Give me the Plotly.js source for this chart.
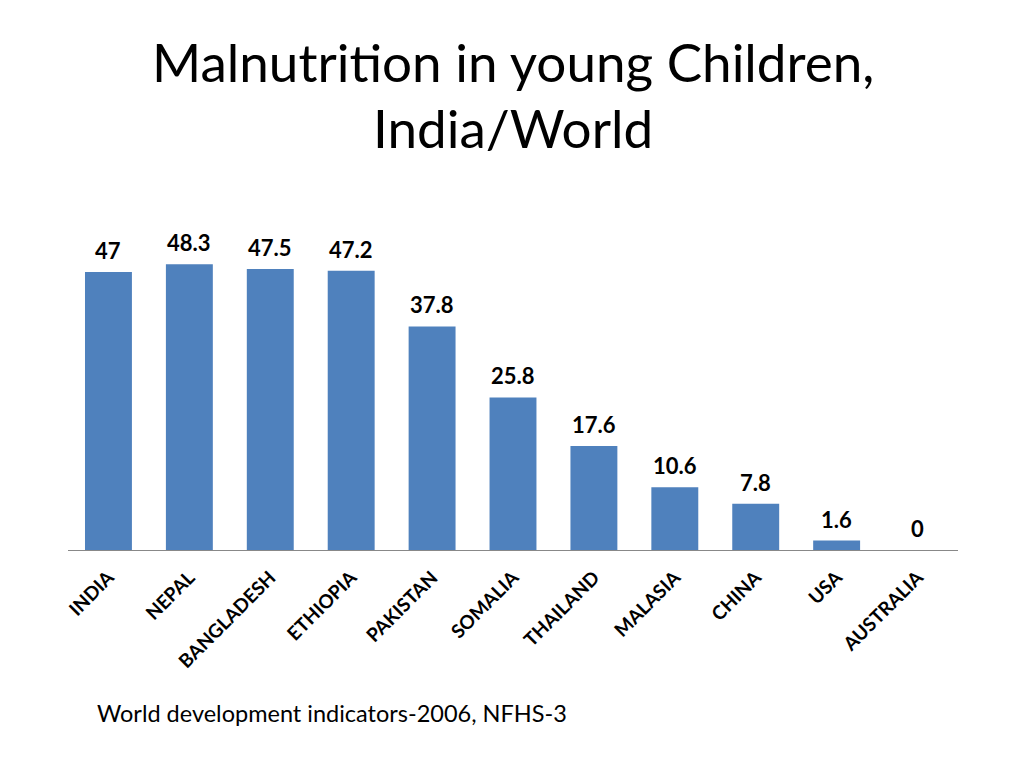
<!DOCTYPE html>
<html>
<head>
<meta charset="utf-8">
<script src="https://cdn.plot.ly/plotly-3.0.1.min.js"></script>
<style>html,body{margin:0;padding:0;background:#fff;}#chart{width:1024px;height:768px;}</style>
</head>
<body>
<div id="chart"></div>
<script>
var countries = ["INDIA","NEPAL","BANGLADESH","ETHIOPIA","PAKISTAN","SOMALIA","THAILAND","MALASIA","CHINA","USA","AUSTRALIA"];
var values = [47, 48.3, 47.5, 47.2, 37.8, 25.8, 17.6, 10.6, 7.8, 1.6, 0];
var valueLabels = ["47","48.3","47.5","47.2","37.8","25.8","17.6","10.6","7.8","1.6","0"];
var titleLines = ["Malnutrition in young Children,", "India/World"];
var sourceText = "World development indicators-2006, NFHS-3";

var FONT = "Lato, 'Open Sans', sans-serif";

var trace = {
  type: "bar",
  x: countries,
  y: values,
  marker: {color: "#4F81BD"},
  hoverinfo: "x+y"
};

var annotations = [
  {
    text: titleLines[0],
    xref: "paper", yref: "paper", x: 0.5, y: 1.397,
    xanchor: "center", yanchor: "middle", showarrow: false,
    font: {family: FONT, size: 53, color: "#000"}
  },
  {
    text: titleLines[1],
    xref: "paper", yref: "paper", x: 0.5, y: 1.206,
    xanchor: "center", yanchor: "middle", showarrow: false,
    font: {family: FONT, size: 53, color: "#000"}
  },
  {
    text: sourceText,
    xref: "paper", yref: "paper",
    x: 0.03, y: -0.4657,
    xanchor: "left", yanchor: "middle",
    showarrow: false,
    font: {family: FONT, size: 23.5, color: "#000"}
  }
];

for (var i = 0; i < countries.length; i++) {
  annotations.push({
    text: valueLabels[i],
    xref: "x", yref: "y",
    x: countries[i], y: values[i],
    xanchor: "center", yanchor: "bottom",
    yshift: 6,
    showarrow: false,
    font: {family: FONT, size: 22, color: "#000", weight: "bold"}
  });
}

var layout = {
  width: 1024, height: 768,
  paper_bgcolor: "#fff", plot_bgcolor: "#fff",
  margin: {l: 68, r: 66, t: 200, b: 218},
  showlegend: false,
  bargap: 0.42,
  xaxis: {
    type: "category",
    showgrid: false,
    showline: true, linecolor: "#888", linewidth: 1,
    ticks: "",
    tickangle: -45,
    ticklabelstandoff: 8,
    tickfont: {family: FONT, size: 19, color: "#000", weight: "bold"},
    zeroline: false
  },
  yaxis: {
    range: [0, 59.17],
    visible: false,
    showgrid: false,
    zeroline: false
  },
  annotations: annotations
};

Plotly.newPlot("chart", [trace], layout, {displayModeBar: false, staticPlot: true});
</script>
</body>
</html>
